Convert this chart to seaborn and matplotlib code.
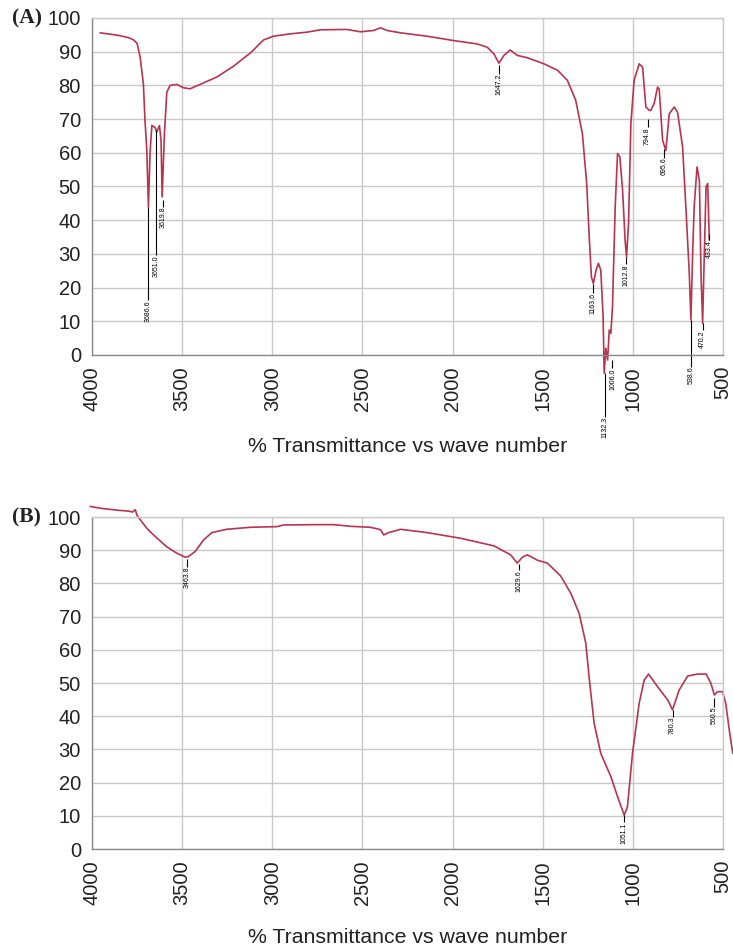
import numpy as np
import pandas as pd
import matplotlib
matplotlib.use("Agg")
import matplotlib.pyplot as plt
from matplotlib.ticker import MultipleLocator
import seaborn as sns

# ---------------- data: panel A ----------------
a_wn = [3955, 3900, 3850, 3800, 3772, 3750, 3733, 3715, 3706, 3696, 3687, 3678, 3668,
        3650, 3641, 3626, 3617, 3611, 3598, 3585, 3567, 3530, 3493, 3456, 3400, 3307,
        3215, 3122, 3048, 2993, 2900, 2807, 2733, 2585, 2511, 2437, 2400, 2363, 2289,
        2141, 1994, 1863, 1807, 1770, 1743, 1715, 1681, 1641, 1585, 1493, 1418, 1363,
        1317, 1280, 1256, 1243, 1230, 1219, 1204, 1191, 1178, 1165, 1159, 1150, 1140,
        1131, 1122, 1113, 1098, 1085, 1072, 1057, 1043, 1035, 1024, 1011, 993, 965,
        946, 928, 909, 900, 882, 863, 854, 835, 817, 798, 770, 752, 724, 706, 687,
        678, 669, 660, 644, 631, 622, 613, 604, 594, 585, 576]
a_t = [95.6, 95.2, 94.8, 94.2, 93.6, 92.5, 88.4, 80.5, 69.6, 60.7, 43.9, 60.0, 68.1,
       67.5, 66.2, 68.1, 63.7, 46.9, 66.0, 78.0, 80.0, 80.3, 79.3, 79.0, 80.3, 82.5,
       85.7, 89.6, 93.5, 94.6, 95.3, 95.8, 96.5, 96.6, 95.9, 96.3, 97.1, 96.3, 95.6,
       94.6, 93.3, 92.3, 91.3, 89.3, 86.6, 88.9, 90.5, 88.9, 88.2, 86.4, 84.5, 81.5,
       75.6, 65.7, 50.9, 36.1, 23.2, 21.2, 25.2, 27.2, 25.2, 11.4, -5.4, 2.0, -1.5,
       7.4, 6.4, 14.3, 43.9, 59.8, 58.8, 48.9, 34.0, 29.1, 39.0, 68.6, 81.5, 86.4,
       85.4, 73.6, 72.6, 72.6, 74.6, 79.5, 79.0, 63.7, 60.7, 71.6, 73.6, 72.0, 61.7,
       43.9, 24.2, 10.4, 29.1, 43.9, 55.8, 51.8, 24.2, 9.4, 29.1, 49.9, 50.9, 34.1]

a_pk_wn = [3687, 3644, 3604, 1743, 1219, 1157, 1113, 1037, 918, 826, 679, 613, 578]
a_pk_from = [43.9, 66.7, 46.0, 86.0, 21.2, -5.4, -1.5, 29.1, 70.0, 61.0, 10.4, 9.4, 36.0]
a_pk_to = [16.3, 29.6, 44.0, 83.5, 18.4, -18.3, -4.0, 27.0, 67.6, 58.5, -3.5, 7.4, 34.0]
a_pk_lab = ["3686.6", "3651.0", "3619.8", "1647.2", "1163.6", "1132.3", "1006.0",
            "1012.8", "794.8", "695.6", "538.6", "470.2", "433.4"]

# ---------------- data: panel B ----------------
b_wn = [4010, 3950, 3900, 3850, 3800, 3775, 3760, 3750, 3730, 3710, 3696, 3659, 3585,
        3530, 3483, 3465, 3428, 3381, 3335, 3252, 3122, 2974, 2937, 2752, 2661, 2567,
        2456, 2400, 2382, 2354, 2289, 2141, 1956, 1770, 1678, 1641, 1613, 1585, 1530,
        1474, 1400, 1344, 1298, 1261, 1243, 1215, 1178, 1122, 1085, 1048, 1030, 1002,
        965, 937, 913, 863, 807, 780, 743, 696, 641, 594, 567, 548, 530, 502, 485,
        465, 446]
b_t = [103.2, 102.6, 102.3, 102.0, 101.8, 101.5, 102.2, 100.5, 99.0, 97.6, 96.6, 94.6,
       91.0, 89.1, 87.9, 88.1, 89.6, 93.1, 95.3, 96.3, 96.9, 97.1, 97.6, 97.7, 97.7,
       97.2, 96.9, 96.2, 94.6, 95.3, 96.3, 95.3, 93.6, 91.3, 88.6, 86.1, 87.9, 88.6,
       87.0, 86.1, 82.2, 77.0, 71.0, 62.0, 51.9, 37.9, 28.8, 21.8, 15.8, 10.2, 12.7,
       28.8, 43.9, 50.9, 52.7, 48.9, 44.9, 41.9, 47.9, 52.1, 52.7, 52.7, 49.9, 46.4,
       47.4, 47.4, 43.9, 35.8, 28.8]

b_pk_wn = [3474, 1632, 1048, 780, 548]
b_pk_from = [87.5, 85.8, 10.2, 41.9, 45.5]
b_pk_to = [85.0, 84.0, 8.0, 39.8, 42.8]
b_pk_lab = ["3463.8", "1629.6", "1051.1", "780.3", "560.5"]

x_ticks = [4000, 3500, 3000, 2500, 2000, 1500, 1000, 500]
y_ticks = [0, 10, 20, 30, 40, 50, 60, 70, 80, 90, 100]
xlabel = "% Transmittance vs wave number"

# ---------------- style ----------------
sns.set_style("white")
plt.rcParams['font.family'] = ['Liberation Sans', 'DejaVu Sans']

W, H = 733, 947
fig = plt.figure(figsize=(W / 100, H / 100), dpi=100)

LINE = '#b8344f'
GRID = '#c9c9c9'
SPINE = '#8a8a8a'


def panel(rect, wn, t, pk_wn, pk_from, pk_to, pk_lab, tag, lab_off):
    ax = fig.add_axes(rect)
    df = pd.DataFrame({"wn": wn, "T": t})
    sns.lineplot(data=df, x="wn", y="T", ax=ax, color=LINE, lw=1.2,
                 sort=False, estimator=None)
    for ln in ax.lines:
        ln.set_clip_on(False)
    ax.set_xlim(4000, 500)
    ax.set_ylim(0, 100)
    ax.set_xticks(x_ticks)
    ax.set_yticks(y_ticks)
    ax.xaxis.set_minor_locator(MultipleLocator(250))
    ax.grid(True, which='major', color=GRID, lw=1.0)
    ax.set_axisbelow(True)
    for s in ['top', 'right']:
        ax.spines[s].set_color(GRID)
        ax.spines[s].set_linewidth(1.0)
    for s in ['left', 'bottom']:
        ax.spines[s].set_color(SPINE)
        ax.spines[s].set_linewidth(1.0)
    ax.tick_params(axis='both', which='both', direction='out', color=SPINE,
                   length=5, width=1, labelsize=14.5, labelcolor='#222222')
    ax.tick_params(axis='x', which='minor', length=5)
    ax.tick_params(axis='x', pad=3, labelrotation=90)
    ax.tick_params(axis='y', pad=3)
    ax.set_xlabel("")
    ax.set_ylabel("")
    # peak leader lines and labels
    ax.vlines(pk_wn, pk_to, pk_from, colors='black', lw=0.8, clip_on=False)
    for x, y, s in zip(pk_wn, pk_to, pk_lab):
        ax.text(x, y, s, rotation=90, ha='center', va='top', fontsize=5,
                color='black', clip_on=False)
    ax.text(0.5, lab_off, xlabel, transform=ax.transAxes, ha='center',
            va='center', fontsize=15.3, color='#222222')
    fig.text(12 / W, rect[1] + rect[3], tag, ha='left', va='center',
             fontsize=15.5, fontweight='bold', family='Liberation Serif',
             color='#222222')
    return ax


axA = panel([92 / W, 1 - 355 / H, 631 / W, 337 / H], a_wn, a_t, a_pk_wn,
            a_pk_from, a_pk_to, a_pk_lab, "(A)", -92 / 337)
axB = panel([92 / W, 1 - 849 / H, 631 / W, 332 / H], b_wn, b_t, b_pk_wn,
            b_pk_from, b_pk_to, b_pk_lab, "(B)", -88 / 332)

fig.savefig("out.png", dpi=100)
